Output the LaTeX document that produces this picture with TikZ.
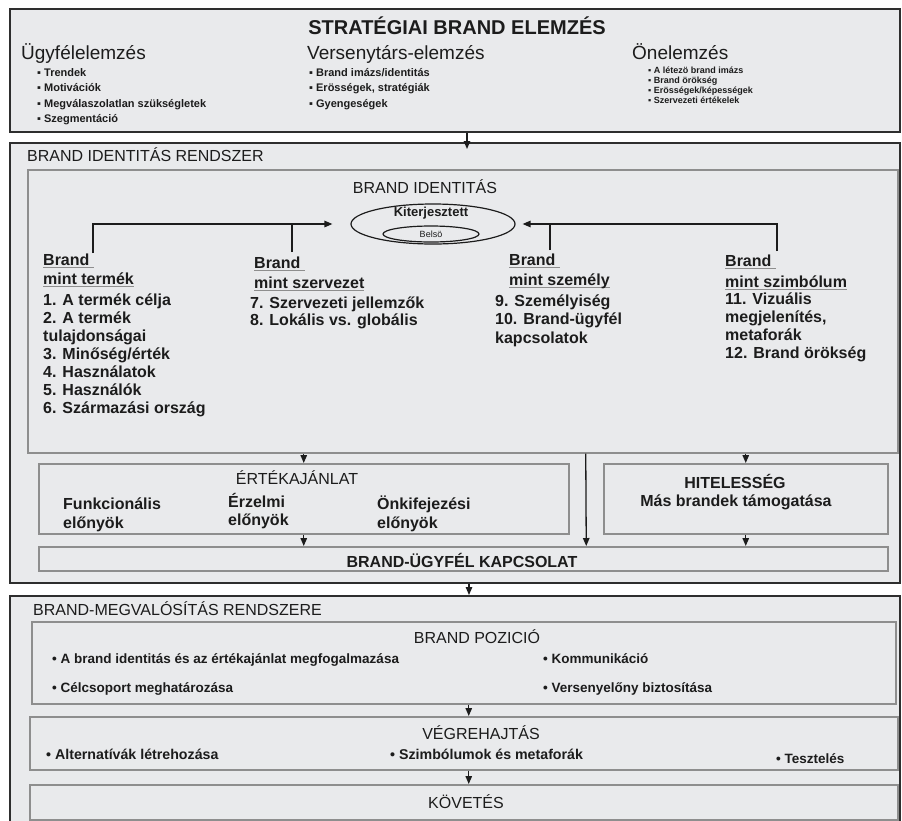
\documentclass[tikz,border=0pt]{standalone}
\usepackage{fontspec}
\setmainfont{Liberation Sans}
\usepackage{xcolor}
\usepackage{tikz}
\usetikzlibrary{arrows.meta,positioning,shapes.geometric}
\definecolor{panel}{HTML}{E9EAEC}
\definecolor{frame}{HTML}{2E2E2E}
\definecolor{subframe}{HTML}{8E8E8E}
\definecolor{ink}{HTML}{1C1C1C}
\newsavebox{\ulbox}
\newcommand{\brandline}[1]{\sbox{\ulbox}{#1}\rlap{\color{subframe}\rule[-2.5pt]{\wd\ulbox}{1pt}}\usebox{\ulbox}}
\tikzset{
  outerbox/.style={rectangle, draw=frame, fill=panel, line width=2pt,
    anchor=north west, inner sep=0pt},
  innerbox/.style={rectangle, draw=subframe, fill=panel, line width=1.5pt,
    anchor=north west, inner sep=0pt},
  boxdim/.style 2 args={minimum width=#1, minimum height=#2},
  flowarrow/.style={-{Triangle[length=8pt,width=6.5pt]}, line width=1.3pt, draw=ink},
  flowline/.style={line width=1.3pt, draw=ink},
  ringshape/.style={ellipse, draw=ink, fill=panel, line width=1.2pt, inner sep=0pt},
  bigtitle/.style={font=\fontsize{20}{24}\selectfont\bfseries, anchor=base},
  subtitle/.style={font=\fontsize{19}{22}\selectfont, anchor=base west},
  smalllist/.style={font=\fontsize{11}{15.5}\selectfont\bfseries, anchor=base west, align=left},
  tinylist/.style={font=\fontsize{9}{10}\selectfont\bfseries, anchor=base west, align=left},
  capshead/.style={font=\fontsize{16}{18}\selectfont},
  columntext/.style={font=\fontsize{16}{#1}\selectfont\bfseries, anchor=base west, align=left},
  columntext/.default=18,
  bullettext/.style={font=\fontsize{#1}{16}\selectfont\bfseries, anchor=base west},
  bullettext/.default=13.5,
}

\begin{document}
\begin{tikzpicture}[x=1pt, y=-1pt, every node/.append style={inner sep=0pt, text=ink}]
  \useasboundingbox (0,0) rectangle (902,820);
  \fill[white] (0,0) rectangle (902,820);

  % --- boxes
  \node[outerbox, boxdim={890pt}{123pt}] (strat) at (9,8) {};
  \node[outerbox, boxdim={890pt}{440pt}] (idrsz) at (9,142) {};
  \node[innerbox, boxdim={870pt}{283pt}] (idbox) at (27,169) {};
  \node[innerbox, boxdim={530pt}{70pt}] (ertek) at (38,463) {};
  \node[innerbox, boxdim={284pt}{70pt}] (hiteles) at (603,463) {};
  \node[innerbox, boxdim={849pt}{24pt}] (kapcs) at (38,546) {};
  \node[outerbox, boxdim={890pt}{240pt}] (megval) at (9,595) {};
  \node[innerbox, boxdim={864pt}{82pt}] (pozicio) at (31,621) {};
  \node[innerbox, boxdim={868pt}{53pt}] (vegre) at (29,716) {};
  \node[innerbox, boxdim={868pt}{35pt}] (kovet) at (29,784) {};

  % --- strategiai elemzes (multi-line nodes sit on their last baseline)
  \node[bigtitle] (strattitle) at (457,34) {STRATÉGIAI BRAND ELEMZÉS};
  \node[subtitle] (ugyfel) at (21,59) {Ügyfélelemzés};
  \node[subtitle] (verseny) at (307,59) {Versenytárs-elemzés};
  \node[subtitle] (onelem) at (632,59) {Önelemzés};
  \node[smalllist] (ugyfellist) at (37,122.5)
    {▪ Trendek\\▪ Motivációk\\▪ Megválaszolatlan szükségletek\\▪ Szegmentáció};
  \node[smalllist] (versenylist) at (309,107)
    {▪ Brand imázs/identitás\\▪ Erösségek, stratégiák\\▪ Gyengeségek};
  \node[tinylist] (onelemlist) at (648,103)
    {▪ A létezö brand imázs\\▪ Brand örökség\\▪ Erösségek/képességek\\▪ Szervezeti értékelek};

  % --- brand identitas rendszer
  \node[capshead, anchor=base west] (idrsztitle) at (27,161) {BRAND IDENTITÁS RENDSZER};
  \node[capshead, anchor=base] (idtitle) at (425,193) {BRAND IDENTITÁS};
  \node[ringshape, minimum width=164pt, minimum height=40pt] (kiterj) at (433,224) {};
  \node[font=\fontsize{13}{15}\selectfont\bfseries, anchor=base] (kiterjtext) at (431,216.5) {Kiterjesztett};
  \node[ringshape, minimum width=96pt, minimum height=16pt, font=\fontsize{9}{10}\selectfont] (belso) at (431,234) {Belsö};

  \node[columntext=19] (termekhead) at (43,284) {\brandline{Brand\ }\\\brandline{mint termék}};
  \node[columntext] (termeklist) at (43,413)
    {1. A termék célja\\2. A termék\\tulajdonságai\\3. Minőség/érték\\4. Használatok\\5. Használók\\6. Származási ország};
  \node[columntext=20] (szervhead) at (254,288) {\brandline{Brand\ }\\\brandline{mint szervezet}};
  \node[columntext=17.5] (szervlist) at (250,325.5) {7. Szervezeti jellemzők\\8. Lokális vs. globális};
  \node[columntext=20] (szemhead) at (509,285) {\brandline{Brand\ }\\\brandline{mint személy}};
  \node[columntext=18.5] (szemlist) at (495,343) {9. Személyiség\\10. Brand-ügyfél\\kapcsolatok};
  \node[columntext=21] (szimbhead) at (725,287) {\brandline{Brand\ }\\\brandline{mint szimbólum}};
  \node[columntext=17.7] (szimblist) at (725,358) {11. Vizuális\\megjelenítés,\\metaforák\\12. Brand örökség};

  \coordinate (termekfoot) at (93,253);
  \coordinate (szervfoot) at (292,252);
  \coordinate (szemfoot) at (550,250);
  \coordinate (szimbfoot) at (777,251);
  \draw[flowarrow, shorten >=18pt] (termekfoot) |- (kiterj.west);
  \draw[flowline] (szervfoot) -- (szervfoot |- kiterj.west);
  \draw[flowarrow, shorten >=7pt] (szimbfoot) |- (kiterj.east);
  \draw[flowline] (szemfoot) -- (szemfoot |- kiterj.east);

  \node[capshead, anchor=base] (ertektitle) at (297,484) {ÉRTÉKAJÁNLAT};
  \node[columntext=19] (funkc) at (63,528) {Funkcionális\\előnyök};
  \node[columntext=18] (erzelmi) at (228,525) {Érzelmi\\előnyök};
  \node[columntext=19] (onkif) at (377,528) {Önkifejezési\\előnyök};
  \node[columntext, anchor=base] (hitelestitle) at (735,488) {HITELESSÉG};
  \node[columntext, anchor=base] (hitelestext) at (736,506) {Más brandek támogatása};
  \node[columntext, anchor=base] (kapcstext) at (462,567) {BRAND-ÜGYFÉL KAPCSOLAT};

  % --- brand megvalositas
  \node[capshead, anchor=base west] (megvaltitle) at (33,615) {BRAND-MEGVALÓSÍTÁS RENDSZERE};
  \node[capshead, anchor=base] (pozititle) at (477,643) {BRAND POZICIÓ};
  \node[bullettext] (pozi1) at (52,663) {• A brand identitás és az értékajánlat megfogalmazása};
  \node[bullettext] (pozi2) at (543,663) {• Kommunikáció};
  \node[bullettext] (pozi3) at (52,692) {• Célcsoport meghatározása};
  \node[bullettext] (pozi4) at (543,692) {• Versenyelőny biztosítása};
  \node[capshead, anchor=base] (vegretitle) at (481,739) {VÉGREHAJTÁS};
  \node[bullettext=14.2] (vegre1) at (46,759) {• Alternatívák létrehozása};
  \node[bullettext=14.2] (vegre2) at (390,759) {• Szimbólumok és metaforák};
  \node[bullettext] (vegre3) at (776,763) {• Tesztelés};
  \node[capshead, anchor=base] (kovettitle) at (466,808) {KÖVETÉS};

  % --- connectors
  \draw[flowarrow, shorten >=-7pt] ([xshift=12pt]strat.south) -- ([xshift=12pt]idrsz.north);
  \draw[flowarrow] (idbox.south -| ertek.north) -- (ertek.north);
  \draw[flowarrow] ([xshift=123pt]idbox.south) -- ([xshift=123pt]kapcs.north);
  \draw[flowarrow] (idbox.south -| hiteles.north) -- (hiteles.north);
  \draw[flowarrow] (ertek.south) -- (kapcs.north -| ertek.south);
  \draw[flowarrow] (hiteles.south) -- (kapcs.north -| hiteles.south);
  \draw[flowarrow] ([xshift=14pt]idrsz.south) -- ([xshift=14pt]megval.north);
  \draw[flowarrow] ([xshift=5pt]pozicio.south) -- ([xshift=5pt]vegre.north);
  \draw[flowarrow] ([xshift=5pt]vegre.south) -- ([xshift=5pt]kovet.north);
\end{tikzpicture}
\end{document}
